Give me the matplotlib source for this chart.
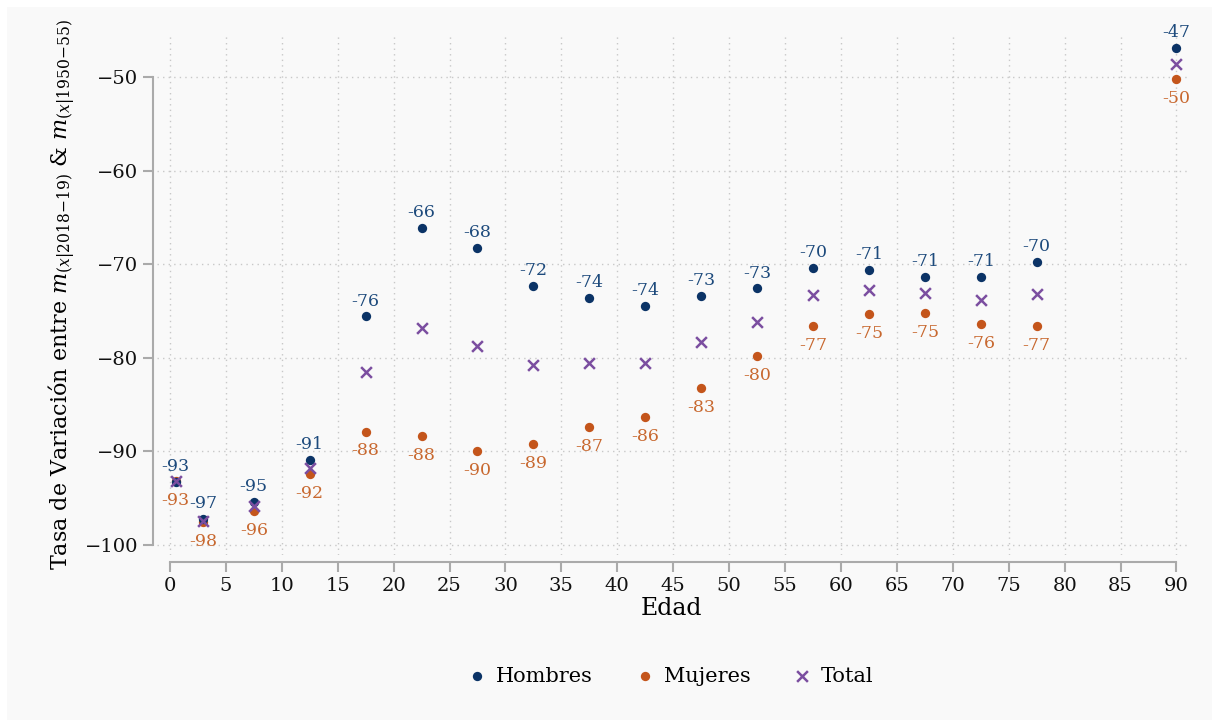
import matplotlib
matplotlib.use("Agg")
import matplotlib.pyplot as plt
from matplotlib.patches import Rectangle

plt.rcParams["font.family"] = ["DejaVu Serif"]
plt.rcParams["mathtext.fontset"] = "dejavuserif"

edad = [0.5, 3, 7.5, 12.5, 17.5, 22.5, 27.5, 32.5, 37.5, 42.5, 47.5, 52.5,
        57.5, 62.5, 67.5, 72.5, 77.5, 90]
hombres = [-93.3, -97.2, -95.4, -90.9, -75.6, -66.1, -68.3, -72.3, -73.6, -74.5,
           -73.4, -72.6, -70.4, -70.6, -71.4, -71.4, -69.8, -46.9]
mujeres = [-93.2, -97.6, -96.4, -92.4, -87.9, -88.4, -90.0, -89.2, -87.4, -86.4,
           -83.2, -79.8, -76.6, -75.3, -75.2, -76.4, -76.6, -50.2]
total = [-93.2, -97.5, -95.9, -91.8, -81.5, -76.8, -78.8, -80.8, -80.6, -80.6,
         -78.3, -76.2, -73.3, -72.8, -73.1, -73.8, -73.2, -48.6]

c_h, c_h_txt = "#0b3366", "#1d4a7c"
c_m, c_m_txt = "#c4551b", "#c8682f"
c_t = "#7b4ea0"
bg = "#f9f9f9"

fig = plt.figure(figsize=(12.12, 7.28), dpi=100, facecolor="white")
fig.patches.append(Rectangle((0.006, 0.011), 0.994, 0.979, transform=fig.transFigure,
                             facecolor=bg, edgecolor="none", zorder=-10))
ax = fig.add_axes([0.1295, 0.2376, 0.8495, 0.7171])
ax.set_facecolor(bg)

ax.scatter(edad, mujeres, s=45, color=c_m, zorder=3, label="Mujeres", linewidths=0)
ax.scatter(edad, hombres, s=45, color=c_h, zorder=3, label="Hombres", linewidths=0)
ax.scatter(edad, total, s=60, color=c_t, marker="x", linewidths=1.8, zorder=4, label="Total")

for x, yh, ym in zip(edad, hombres, mujeres):
    ax.annotate(f"{round(yh):d}", (x, yh), xytext=(0, 11),
                textcoords="offset points", ha="center", va="center",
                fontsize=12.5, color=c_h_txt)
    ax.annotate(f"{round(ym):d}", (x, ym), xytext=(0, -14),
                textcoords="offset points", ha="center", va="center",
                fontsize=12.5, color=c_m_txt)

ax.set_xlim(-1.16, 90.9)
ax.set_ylim(-101.1, -45.3)
ax.set_xticks(range(0, 91, 5))
ax.set_yticks(range(-100, -49, 10))
ax.set_yticklabels([f"\u2212{abs(v)}" for v in range(-100, -49, 10)])
ax.grid(True, linestyle=(0, (1, 3)), color="#c8c8c8", linewidth=1)
ax.set_axisbelow(True)

for s in ["top", "right"]:
    ax.spines[s].set_visible(False)
ax.spines["left"].set_position(("outward", 3))
ax.spines["bottom"].set_position(("outward", 5))
ax.spines["left"].set_bounds(-100, -50)
ax.spines["bottom"].set_bounds(0, 90)
for s in ["left", "bottom"]:
    ax.spines[s].set_color("#aaaaaa")
    ax.spines[s].set_linewidth(1.5)
ax.tick_params(length=7, width=1.5, color="#aaaaaa", labelsize=14, labelcolor="#111111")

ax.set_xlabel("Edad", fontsize=17, labelpad=2)
ax.set_ylabel(r"Tasa de Variación entre $m_{(x|2018{-}19)}$ & $m_{(x|1950{-}55)}$",
              fontsize=16, labelpad=10)
ax.yaxis.set_label_coords(-0.078, 0.5)

handles, labels = ax.get_legend_handles_labels()
order = [1, 0, 2]
fig.legend([handles[i] for i in order], [labels[i] for i in order],
           loc="center", bbox_to_anchor=(0.553, 0.071), ncol=3, frameon=False,
           fontsize=15, handletextpad=0.4, columnspacing=2.0, handlelength=1.0)

fig.savefig("out.png", dpi=100, facecolor=fig.get_facecolor())
